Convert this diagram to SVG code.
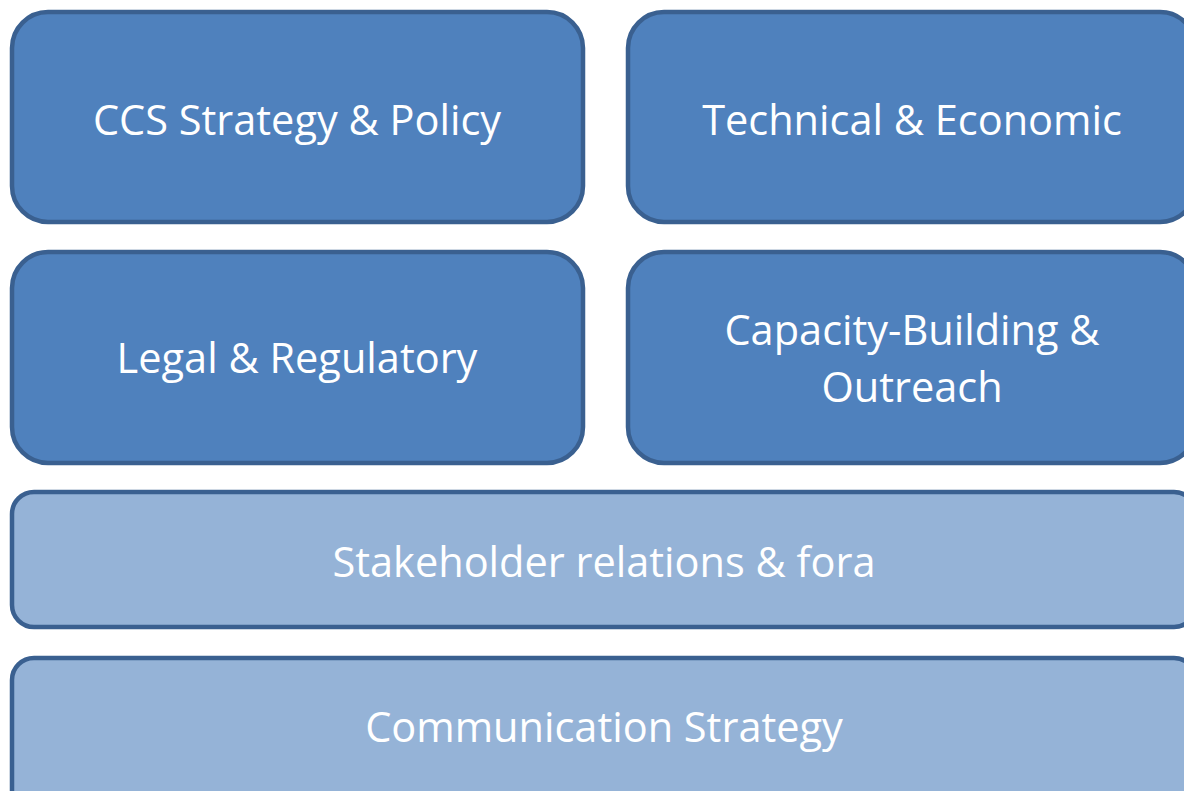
<svg xmlns="http://www.w3.org/2000/svg" width="1184" height="791" viewBox="0 0 1184 791">
<style>
.dark{fill:#4f81bd;stroke:#3a6090;stroke-width:4.5}
.light{fill:#95b3d7;stroke:#3a6090;stroke-width:4.5}
text{font-family:"Open Sans","Liberation Sans",sans-serif;font-size:41.5px;fill:#ffffff;text-anchor:middle;dominant-baseline:central}
</style>
<rect width="1184" height="791" fill="#ffffff"/>
<g id="n1"><rect class="dark" x="12" y="12" width="571" height="210" rx="36"/><text x="297" y="119">CCS Strategy &amp; Policy</text></g>
<g id="n2"><rect class="dark" x="628" y="12" width="568" height="210" rx="36"/><text x="912" y="119">Technical &amp; Economic</text></g>
<g id="n3"><rect class="dark" x="12" y="252" width="571" height="211" rx="36"/><text x="297" y="357">Legal &amp; Regulatory</text></g>
<g id="n4"><rect class="dark" x="628" y="252" width="568" height="211" rx="36"/><text x="912" y="329">Capacity-Building &amp;</text><text x="912" y="386">Outreach</text></g>
<g id="n5"><rect class="light" x="12" y="492" width="1184" height="135" rx="22"/><text x="604" y="561">Stakeholder relations &amp; fora</text></g>
<g id="n6"><rect class="light" x="12" y="658" width="1184" height="160" rx="22"/><text x="604" y="726">Communication Strategy</text></g>
<g id="connectors"></g>
</svg>
